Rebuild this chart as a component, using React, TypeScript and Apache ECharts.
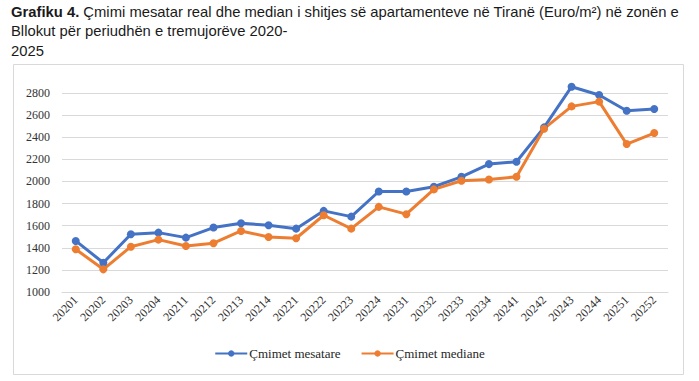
import React, { useEffect, useRef } from "react";
import * as echarts from "echarts";

const categories = [
  "20201", "20202", "20203", "20204",
  "20211", "20212", "20213", "20214",
  "20221", "20222", "20223", "20224",
  "20231", "20232", "20233", "20234",
  "20241", "20242", "20243", "20244",
  "20251", "20252",
];

const mesatare = [
  1462, 1265, 1522, 1537, 1492, 1583, 1622, 1604, 1573, 1734, 1682, 1909,
  1909, 1952, 2042, 2157, 2178, 2489, 2857, 2782, 2640, 2655,
];

const mediane = [
  1386, 1205, 1410, 1474, 1416, 1441, 1552, 1498, 1486, 1694, 1573, 1770,
  1704, 1928, 2006, 2018, 2042, 2477, 2679, 2722, 2338, 2438,
];

const seriesNames = ["Çmimet mesatare", "Çmimet mediane"];

const titleLines = [
  "Çmimi mesatar real dhe median i shitjes së apartamenteve në Tiranë (Euro/m²) në zonën e",
  "Bllokut për periudhën e tremujorëve 2020-",
  "2025",
];

export default function App() {
  const ref = useRef<HTMLDivElement>(null);

  useEffect(() => {
    if (!ref.current) return;
    const chart = echarts.init(ref.current, undefined, { renderer: "svg" });
    const serif = "Liberation Serif";
    const sans = "Liberation Sans";
    const tSize = 14.8;
    const lh = 19.5;
    chart.setOption({
      animation: false,
      backgroundColor: "#ffffff",
      graphic: [
        {
          type: "rect",
          shape: { x: 13.5, y: 64.5, width: 670, height: 310 },
          style: { fill: "none", stroke: "#d9d9d9", lineWidth: 1 },
          silent: true,
        },
        {
          type: "text",
          x: 11,
          y: 2,
          style: {
            text:
              "{b|Grafiku 4.} " + titleLines[0] + "\n" + titleLines[1] + "\n" + titleLines[2],
            fontSize: tSize,
            fontFamily: sans,
            lineHeight: lh,
            fill: "#1a1a1a",
            verticalAlign: "top",
            align: "left",
            rich: {
              b: {
                fontWeight: "bold",
                fontSize: tSize,
                fontFamily: sans,
                lineHeight: lh,
                fill: "#1a1a1a",
              },
            },
          },
        },
      ],
      legend: {
        bottom: 16,
        left: "center",
        itemWidth: 32,
        itemHeight: 8,
        itemGap: 20,
        textStyle: { fontFamily: serif, fontSize: 13, color: "#262626", padding: [0, 0, 0, -3] },
        data: seriesNames,
      },
      grid: { left: 62, right: 31, top: 93, bottom: 89, containLabel: false },
      xAxis: {
        type: "category",
        data: categories,
        boundaryGap: true,
        axisLine: { show: true, lineStyle: { color: "#d9d9d9", width: 1 } },
        axisTick: { show: false },
        axisLabel: {
          rotate: 45,
          interval: 0,
          margin: 6,
          fontFamily: serif,
          fontSize: 12,
          color: "#333333",
        },
      },
      yAxis: {
        type: "value",
        min: 1000,
        max: 2800,
        interval: 200,
        axisLine: { show: false },
        axisTick: { show: false },
        splitLine: { lineStyle: { color: "#d9d9d9", width: 1 } },
        axisLabel: {
          margin: 12,
          fontFamily: serif,
          fontSize: 12,
          color: "#333333",
          formatter: (v: number) => String(v),
        },
      },
      series: [
        {
          name: seriesNames[0],
          type: "line",
          data: mesatare,
          clip: false,
          symbol: "circle",
          symbolSize: 8,
          itemStyle: { color: "#4472C4" },
          lineStyle: { color: "#4472C4", width: 3 },
        },
        {
          name: seriesNames[1],
          type: "line",
          data: mediane,
          clip: false,
          symbol: "circle",
          symbolSize: 8,
          itemStyle: { color: "#ED7D31" },
          lineStyle: { color: "#ED7D31", width: 3 },
        },
      ],
    });
    return () => chart.dispose();
  }, []);

  return (
    <div
      ref={ref}
      style={{ position: "absolute", left: 0, top: 0, width: 699, height: 381 }}
    />
  );
}
